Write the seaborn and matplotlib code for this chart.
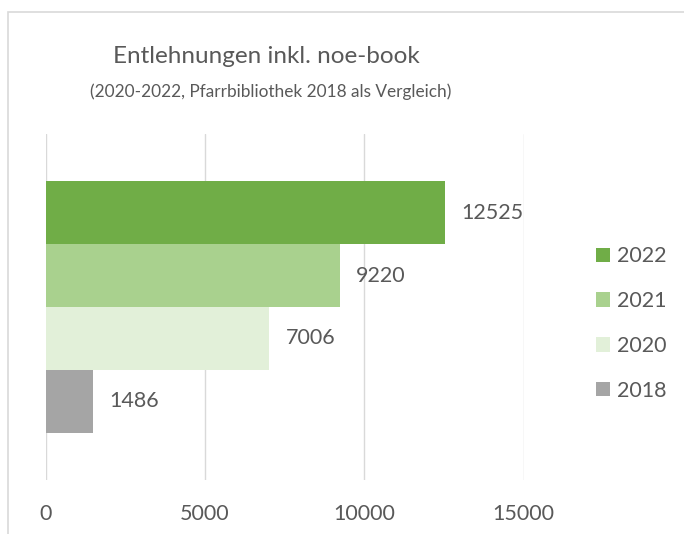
"""
plot.py - Entlehnungen inkl. noe-book (horizontal grouped bars)
"""
import matplotlib
matplotlib.use('Agg')
import matplotlib.pyplot as plt
import matplotlib.patches as mpatches
import pandas as pd
import seaborn as sns

# ── DATA ──────────────────────────────────────────────────────
YEARS = ["2022", "2021", "2020", "2018"]
VALUES = [12525, 9220, 7006, 1486]
COLORS = ["#70AD47", "#A9D18E", "#E2F0D9", "#A5A5A5"]
XTICKS = [0, 5000, 10000, 15000]

TITLE = "Entlehnungen inkl. noe-book"
SUBTITLE = "(2020-2022, Pfarrbibliothek 2018 als Vergleich)"

df = pd.DataFrame({"Kategorie": ["Entlehnungen"] * len(YEARS),
                   "Jahr": YEARS, "Wert": VALUES})

# ── STYLE ─────────────────────────────────────────────────────
sns.set_theme(style="white")
TXT = "#595959"
GRID = "#D9D9D9"
plt.rcParams['font.family'] = ['Lato', 'DejaVu Sans']

W, H = 684, 534
fig = plt.figure(figsize=(W / 100, H / 100), dpi=100)
fig.patch.set_facecolor("white")

# outer chart border (only left/top visible in the crop)
fig.patches.append(mpatches.Rectangle((8 / W, -0.1), 1.2, 1 - 12 / H + 0.1,
                                      transform=fig.transFigure, fill=False,
                                      edgecolor=GRID, linewidth=1.2))

ax = fig.add_axes([45.7 / W, 54 / H, 478 / W, 346 / H])

sns.barplot(data=df, x="Wert", y="Kategorie", hue="Jahr", hue_order=YEARS,
            palette=COLORS, orient="h", width=0.728, saturation=1,
            legend=False, ax=ax, edgecolor="none")

ax.set_xlim(0, 15000)
ax.set_ylim(0.5, -0.5)
ax.set_xticks(XTICKS)
ax.set_xticklabels([str(t) for t in XTICKS])
ax.set_yticks([])
ax.set_xlabel("")
ax.set_ylabel("")
ax.tick_params(axis="x", length=0, pad=17, labelsize=15.5, labelcolor=TXT)
for s in ax.spines.values():
    s.set_visible(False)
ax.grid(axis="x", color=GRID, linewidth=1.0)
ax.set_axisbelow(True)

for cont in ax.containers:
    ax.bar_label(cont, labels=[str(int(v)) for v in cont.datavalues],
                 padding=12, fontsize=15.5, color=TXT)

# ── TITLES ────────────────────────────────────────────────────
fig.text(266 / W, 1 - 63 / H, TITLE, ha="center", va="baseline",
         fontsize=17.5, color=TXT)
fig.text(271 / W, 1 - 97 / H, SUBTITLE, ha="center", va="baseline",
         fontsize=12.4, color=TXT)

# ── LEGEND ────────────────────────────────────────────────────
handles = [mpatches.Patch(facecolor=c, edgecolor="none", label=y)
           for y, c in zip(YEARS, COLORS)]
fig.legend(handles=handles, loc="center left",
           bbox_to_anchor=(596 / W, 1 - 323.5 / H), frameon=False,
           fontsize=15.5, labelcolor=TXT, handlelength=0.65,
           handleheight=0.65, handletextpad=0.32, labelspacing=1.15,
           borderpad=0, borderaxespad=0)

fig.savefig("out.png", dpi=100, facecolor="white")
